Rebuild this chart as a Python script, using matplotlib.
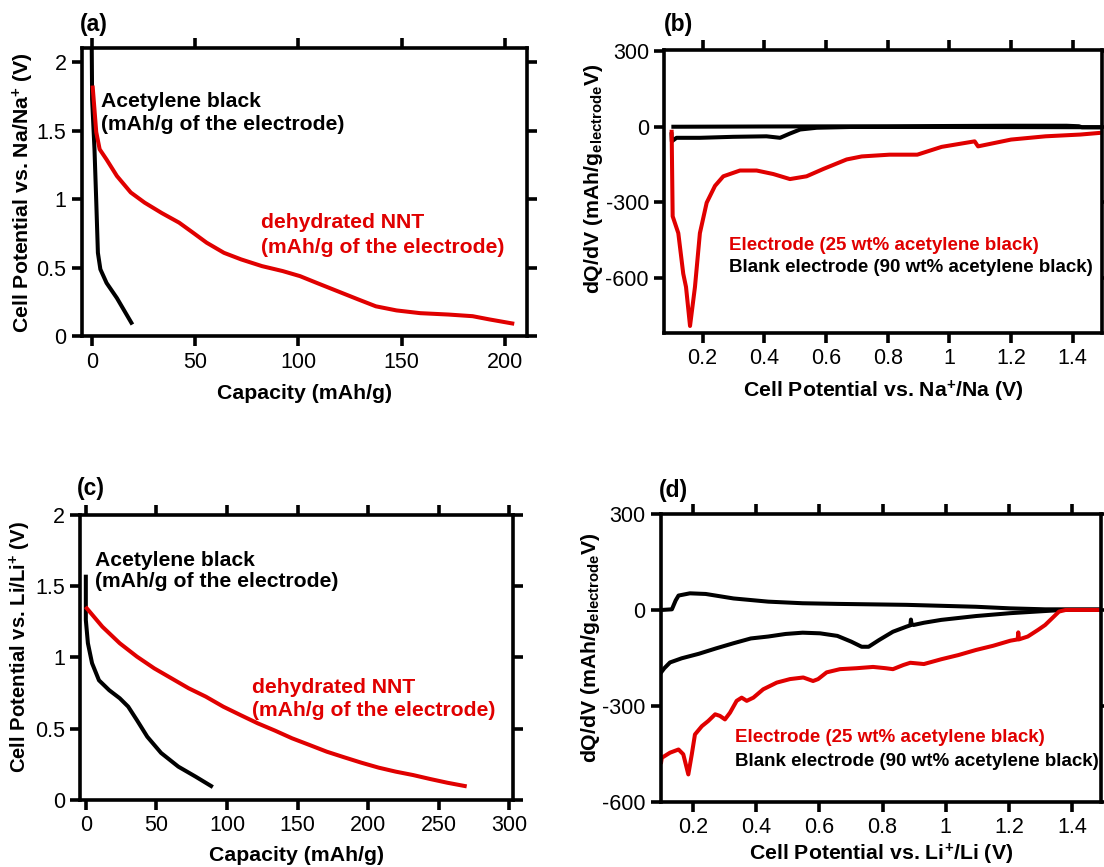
import matplotlib
matplotlib.use('Agg')
import matplotlib.pyplot as plt
from matplotlib.ticker import FormatStrFormatter

plt.rcParams['font.family'] = ['Liberation Sans', 'DejaVu Sans']
plt.rcParams['mathtext.fontset'] = 'custom'
plt.rcParams['mathtext.rm'] = 'Liberation Sans:bold'
plt.rcParams['mathtext.bf'] = 'Liberation Sans:bold'
plt.rcParams['mathtext.it'] = 'Liberation Sans:bold'
plt.rcParams['axes.unicode_minus'] = False

RED = '#e00000'

# (a) sodium discharge curves
a_black_x = [0, 0.2, 1.35, 2.17, 3.0, 4.2, 7.2, 12.2, 19.2]
a_black_y = [2.15, 1.73, 1.365, 1.0, 0.61, 0.49, 0.39, 0.28, 0.10]
a_red_x = [0.5, 2.2, 3.85, 7.2, 12.2, 18.9, 25.6, 33.9, 42.3, 49, 55.6, 64, 72.3, 82.4,
           92.4, 100.8, 109, 119, 129, 137.5, 147.5, 159, 172.6, 184.3, 192.6, 203.5]
a_red_y = [1.815, 1.49, 1.365, 1.29, 1.17, 1.05, 0.976, 0.90, 0.83, 0.757, 0.684, 0.61,
           0.562, 0.513, 0.477, 0.44, 0.39, 0.33, 0.27, 0.22, 0.19, 0.17, 0.16, 0.148,
           0.124, 0.095]

# (b) sodium dQ/dV
b_red_x = [0.0994, 0.1027, 0.121, 0.137, 0.146, 0.159, 0.175, 0.191, 0.213, 0.240, 0.267,
           0.321, 0.375, 0.429, 0.483, 0.537, 0.591, 0.667, 0.716, 0.806, 0.896, 0.975,
           1.082, 1.093, 1.2, 1.312, 1.425, 1.492]
b_red_y = [-20, -356, -423, -584, -637, -792, -637, -423, -302, -235, -197, -174, -174,
           -188, -208, -197, -168, -130, -118, -111, -111, -80, -58, -78, -51, -38, -31, -24]
b_black_up_x = [0.105, 0.4, 0.8, 1.2, 1.38, 1.42, 1.43, 1.5]
b_black_up_y = [0, 1, 2, 4, 4, 2, -2, -2]
b_black_dn_x = [1.5, 1.0, 0.678, 0.57, 0.516, 0.483, 0.451, 0.407, 0.299, 0.191, 0.115,
                0.1, 0.099]
b_black_dn_y = [-2, -1, -1, -4, -11, -27, -44, -38, -40, -44, -44, -58, -30]

# (c) lithium discharge curves
c_black_x = [0, 0, 1.47, 4.4, 9.3, 16.6, 24, 30, 36.2, 43.5, 53.3, 65.5, 77.7, 88.7]
c_black_y = [1.567, 1.263, 1.1, 0.96, 0.84, 0.77, 0.714, 0.655, 0.56, 0.444, 0.33, 0.234,
             0.164, 0.098]
c_red_x = [0.7, 11.7, 24, 36.2, 48.4, 60.6, 72.8, 85, 97.3, 109.5, 121.7, 133.9, 146,
           158.4, 170.6, 182.8, 195, 207.3, 219.4, 231.7, 243.9, 256, 268.3]
c_red_y = [1.345, 1.216, 1.1, 1.006, 0.924, 0.854, 0.784, 0.725, 0.655, 0.596, 0.538,
           0.487, 0.433, 0.386, 0.339, 0.3, 0.262, 0.227, 0.199, 0.175, 0.147, 0.121, 0.098]

# (d) lithium dQ/dV
d_red_x = [0.099, 0.101, 0.127, 0.154, 0.169, 0.185, 0.196, 0.206, 0.228, 0.248, 0.27,
           0.285, 0.301, 0.317, 0.338, 0.354, 0.37, 0.391, 0.422, 0.465, 0.507, 0.549,
           0.58, 0.596, 0.623, 0.665, 0.718, 0.77, 0.81, 0.833, 0.866, 0.888, 0.931,
           0.986, 1.04, 1.096, 1.15, 1.205, 1.228, 1.23, 1.232, 1.26, 1.293, 1.315,
           1.337, 1.359, 1.38, 1.492]
d_red_y = [-475, -462, -446, -436, -451, -514, -451, -389, -363, -347, -326, -331, -342,
           -321, -284, -274, -284, -274, -248, -227, -216, -211, -222, -216, -195, -185,
           -182, -178, -182, -185, -172, -165, -169, -154, -141, -125, -112, -96, -92, -70,
           -92, -83, -62, -47, -26, -5, 0, 0]
d_black_up_x = [0.101, 0.133, 0.145, 0.154, 0.19, 0.24, 0.328, 0.438, 0.547, 0.657,
                0.876, 0.986, 1.096, 1.205, 1.315, 1.492]
d_black_up_y = [0, 2, 30, 45, 52, 50, 36, 26, 21, 19, 16, 13, 10, 5, 2, 2]
d_black_dn_x = [1.492, 1.37, 1.205, 1.096, 0.986, 0.931, 0.898, 0.892, 0.89, 0.888,
                0.876, 0.833, 0.789, 0.756, 0.734, 0.701, 0.657, 0.602, 0.547, 0.493,
                0.438, 0.383, 0.328, 0.273, 0.218, 0.164, 0.127, 0.109, 0.099]
d_black_dn_y = [0, 0, -10, -19, -31, -40, -47, -45, -30, -48, -52, -68, -94, -115, -115,
                -99, -81, -73, -71, -75, -83, -89, -104, -120, -137, -151, -164, -182, -195]

fig = plt.figure(figsize=(11.04, 8.67), dpi=100)


def style(ax, xt, yt):
    for s in ax.spines.values():
        s.set_linewidth(2.6)
    ax.set_xticks(xt)
    ax.set_yticks(yt)
    ax.xaxis.set_major_formatter(FormatStrFormatter('%g'))
    ax.yaxis.set_major_formatter(FormatStrFormatter('%g'))
    ax.tick_params(direction='out', length=7, width=2.6, labelsize=15.5, pad=4,
                   top=True, right=True)


lw = 2.9
lab = dict(fontsize=15.3, fontweight='bold')
ann = dict(fontsize=15.2, fontweight='bold', va='center')
leg = dict(fontsize=13.5, fontweight='bold', va='center')
pan = dict(fontsize=16.5, fontweight='bold', va='center')

# panel a
ax = fig.add_axes([0.0740, 0.6119, 0.4031, 0.3322])
ax.plot(a_black_x, a_black_y, color='black', lw=lw)
ax.plot(a_red_x, a_red_y, color=RED, lw=lw)
ax.set_xlim(-4.84, 210.5)
ax.set_ylim(0, 2.1)
style(ax, [0, 50, 100, 150, 200], [0, 0.5, 1, 1.5, 2])
ax.set_xlabel('Capacity (mAh/g)', labelpad=8, **lab)
ax.set_ylabel(r'Cell Potential vs. Na/Na$^{+}$ (V)', labelpad=0, **lab)
ax.text(4.5, 1.715, 'Acetylene black', **ann)
ax.text(4.5, 1.545, '(mAh/g of the electrode)', **ann)
ax.text(81.7, 0.83, 'dehydrated NNT', color=RED, **ann)
ax.text(81.7, 0.65, '(mAh/g of the electrode)', color=RED, **ann)
fig.text(80 / 1104, 1 - 25 / 867, '(a)', **pan)

# panel b
ax = fig.add_axes([0.6017, 0.6159, 0.3962, 0.3264])
ax.plot(b_black_up_x, b_black_up_y, color='black', lw=lw)
ax.plot(b_black_dn_x, b_black_dn_y, color='black', lw=lw)
ax.plot(b_red_x, b_red_y, color=RED, lw=lw)
ax.set_xlim(0.0755, 1.494)
ax.set_ylim(-820, 305)
style(ax, [0.2, 0.4, 0.6, 0.8, 1, 1.2, 1.4], [-600, -300, 0, 300])
ax.set_xlabel(r'Cell Potential vs. Na$^{+}$/Na (V)', labelpad=7, **lab)
ax.set_ylabel(r'dQ/dV (mAh/g$_{electrode}$V)', labelpad=0, **lab)
ax.yaxis.label.set_y(0.546)
ax.text(0.287, -472, 'Electrode (25 wt% acetylene black)', color=RED, **leg)
ax.text(0.287, -560, 'Blank electrode (90 wt% acetylene black)', **leg)
fig.text(664 / 1104, 1 - 25 / 867, '(b)', **pan)

# panel c
ax = fig.add_axes([0.0725, 0.0773, 0.3922, 0.3287])
ax.plot(c_black_x, c_black_y, color='black', lw=lw)
ax.plot(c_red_x, c_red_y, color=RED, lw=lw)
ax.set_xlim(-4.1, 302.5)
ax.set_ylim(0, 2)
style(ax, [0, 50, 100, 150, 200, 250, 300], [0, 0.5, 1, 1.5, 2])
ax.set_xlabel('Capacity (mAh/g)', labelpad=7, **lab)
ax.set_ylabel(r'Cell Potential vs. Li/Li$^{+}$ (V)', labelpad=1, fontsize=14.6,
              fontweight='bold')
ax.yaxis.label.set_y(0.535)
ax.text(6.6, 1.684, 'Acetylene black', **ann)
ax.text(6.6, 1.53, '(mAh/g of the electrode)', **ann)
ax.text(118, 0.786, 'dehydrated NNT', color=RED, **ann)
ax.text(118, 0.63, '(mAh/g of the electrode)', color=RED, **ann)
fig.text(76.5 / 1104, 1 - 488 / 867, '(c)', **pan)

# panel d
ax = fig.add_axes([0.5986, 0.0750, 0.3987, 0.3322])
ax.plot(d_black_up_x, d_black_up_y, color='black', lw=lw)
ax.plot(d_black_dn_x, d_black_dn_y, color='black', lw=lw)
ax.plot(d_red_x, d_red_y, color=RED, lw=lw)
ax.set_xlim(0.098, 1.492)
ax.set_ylim(-600, 300)
style(ax, [0.2, 0.4, 0.6, 0.8, 1, 1.2, 1.4], [-600, -300, 0, 300])
ax.set_xlabel(r'Cell Potential vs. Li$^{+}$/Li (V)', labelpad=2.5, **lab)
ax.set_ylabel(r'dQ/dV (mAh/g$_{electrode}$V)', labelpad=0, **lab)
ax.yaxis.label.set_y(0.535)
ax.text(0.333, -400, 'Electrode (25 wt% acetylene black)', color=RED, **leg)
ax.text(0.333, -472, 'Blank electrode (90 wt% acetylene black)', **leg)
fig.text(659 / 1104, 1 - 490 / 867, '(d)', **pan)

fig.savefig('out.png', dpi=100)
